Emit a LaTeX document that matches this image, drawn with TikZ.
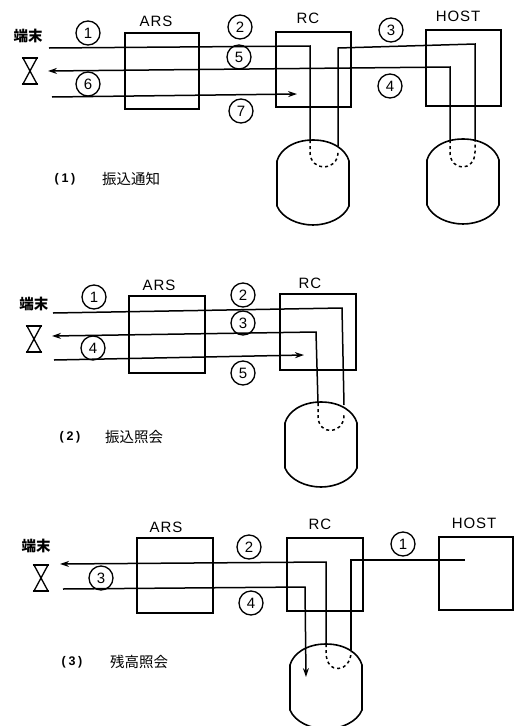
\documentclass[tikz,border=0pt]{standalone}
\usepackage{fontspec}
\setmainfont{Liberation Sans}
\newfontfamily\jpfont{Noto Sans CJK JP}
\newfontfamily\lblfont[LetterSpace=6]{Liberation Sans}
\newfontfamily\hdfont[LetterSpace=22]{Liberation Sans}
\usetikzlibrary{arrows.meta,positioning,calc}
\tikzset{>=Stealth,every node/.style={font=\small},
 unit/.style={draw,line width=1.6pt,inner sep=0pt},
 tag/.style={font=\fontsize{15}{15}\lblfont,inner sep=0pt},
 head/.style={font=\fontsize{12.5}{13}\hdfont\bfseries,inner sep=0pt},
 num/.style={circle,draw,line width=1.3pt,minimum size=24pt,inner sep=0pt,font=\fontsize{15}{15}\selectfont},
 title/.style={font=\fontsize{14.5}{15}\jpfont,inner sep=0pt},
 term/.style={font=\fontsize{14.5}{15}\jpfont\bfseries,inner sep=0pt},
 wire/.style={line width=1.5pt},
 flow/.style={wire,-{Stealth[length=9pt,width=6pt]}},
 pics/hourglass/.style={code={
  \draw[line width=1.3pt] (-7,-13) -- (7,-13) -- (-7,13) -- (7,13) -- cycle;
  \draw[line width=2.2pt] (-8,-13) -- (8,-13) (-8,13) -- (8,13);}},
 pics/drum/.style={code={
  \draw[line width=1.6pt] (-36,21) .. controls (-33,10) and (-20,0) .. (0,0)
   .. controls (20,0) and (33,10) .. (36,21)
   -- (36,66) .. controls (31,78) and (15,85) .. (0,85) .. controls (-15,85) and (-31,78) .. (-36,66) -- cycle;}}}
\begin{document}
\begin{tikzpicture}[x=1pt,y=-1pt]
\useasboundingbox[fill=white] (0,0) rectangle (516,726);
% (1)
\node[unit,minimum width=74pt,minimum height=76pt] (ars1) at (162,71){};
\node[unit,minimum width=75pt,minimum height=75pt] (rc1) at (313.5,69.5){};
\node[unit,minimum width=75pt,minimum height=76pt] (host1) at (463.5,68){};
\node[tag] (arsl1) at (156,21){ARS};\node[tag] (rcl1) at (308,18){RC};
\node[tag] (hostl1) at (458,16){HOST};
\node[term] (trm1) at (28,36){端末};\pic (gl1) at (30,71) {hourglass};
\node[num] (a1) at (88,33){1};\node[num] (a2) at (240,27){2};
\node[num] (a3) at (391,30){3};\node[num] (a4) at (390,86){4};
\node[num] (a5) at (239,57){5};\node[num] (a6) at (88,84){6};
\node[num] (a7) at (241,111){7};
\pic (db1) at (313,140) {drum};\pic (db2) at (463,139) {drum};
\coordinate (p1) at (49,48);\coordinate (p2) at (310,46);\coordinate (p3) at (310,140);
\coordinate (p4) at (338,146);\coordinate (p5) at (338,48);\coordinate (p6) at (475,44);
\coordinate (p7) at (475,140);\coordinate (p8) at (450,140);\coordinate (p9) at (450,67);
\coordinate (p10) at (48,71);\coordinate (p11) at (52,97);\coordinate (p12) at (297,94);
\draw[wire] (p1) -- (p2) -- (p3);\draw[wire] (p4) -- (p5) -- (p6) -- (p7);
\draw[flow] (p8) -- (p9) -- (p10);\draw[flow] (p11) -- (p12);
\draw[wire,dashed] (p3) -- ++(0,12) .. controls +(0,20) and ($(p4)+(0,26)$) .. ($(p4)+(0,6)$);
\draw[wire,dashed] (p8) -- ++(0,12) .. controls +(0,20) and ($(p7)+(0,32)$) .. ($(p7)+(0,12)$) -- (p7);
\node[head] (c1) at (65,179){(1)};
\node[title] (t1) at (131,179){振込通知};
% (2)
\node[unit,minimum width=76pt,minimum height=77pt] (ars2) at (167,334.5){};
\node[unit,minimum width=76pt,minimum height=76pt] (rc2) at (318,332){};
\node[tag] (arsl2) at (159,285){ARS};\node[tag] (rcl2) at (310,283){RC};
\node[term] (trm2) at (34,304){端末};\pic (gl2) at (34,339) {hourglass};
\node[num] (b1) at (94,297){1};\node[num] (b2) at (243,295){2};
\node[num] (b3) at (243,323){3};\node[num] (b4) at (93,348){4};
\node[num] (b5) at (243,373){5};
\pic (db3) at (321,402) {drum};
\coordinate (q1) at (53,313);\coordinate (q2) at (342,308);\coordinate (q3) at (344,405);
\coordinate (q4) at (318,403);\coordinate (q5) at (316,332);\coordinate (q6) at (52,336);
\coordinate (q7) at (54,360);\coordinate (q8) at (304,355);
\draw[wire] (q1) -- (q2) -- (q3);\draw[flow] (q4) -- (q5) -- (q6);\draw[flow] (q7) -- (q8);
\draw[wire,dashed] (q4) -- ++(0,13) .. controls +(0,20) and ($(q3)+(0,30)$) .. ($(q3)+(0,10)$);
\node[head] (c2) at (70,437){(2)};
\node[title] (t2) at (134,437){振込照会};
% (3)
\node[unit,minimum width=76pt,minimum height=75pt] (ars3) at (175,575.5){};
\node[unit,minimum width=76pt,minimum height=73pt] (rc3) at (325,574.5){};
\node[unit,minimum width=74pt,minimum height=73pt] (host3) at (476,573.5){};
\node[tag] (arsl3) at (166,527){ARS};\node[tag] (rcl3) at (320,524){RC};
\node[tag] (hostl3) at (474,523){HOST};
\node[term] (trm3) at (36,546){端末};\pic (gl3) at (41,578) {hourglass};
\node[num] (d1) at (403,544){1};\node[num] (d2) at (249,547){2};
\node[num] (d3) at (101,578){3};\node[num] (d4) at (251,603){4};
\pic (db4) at (326,644) {drum};
\coordinate (r1) at (465,560);\coordinate (r2) at (351,560);\coordinate (r3) at (351,650);
\coordinate (r4) at (326,644);\coordinate (r5) at (326,562);\coordinate (r6) at (60,564);
\coordinate (r7) at (63,589);\coordinate (r8) at (305,587);\coordinate (r9) at (306,677);
\draw[wire] (r1) -- (r2) -- (r3);\draw[flow] (r4) -- (r5) -- (r6);\draw[flow] (r7) -- (r8) -- (r9);
\draw[wire,dashed] (r4) -- ++(0,8) .. controls +(0,24) and ($(r3)+(0,22)$) .. ($(r3)+(0,2)$);
\node[head] (c3) at (72,662){(3)};
\node[title] (t3) at (139,662){残高照会};
\end{tikzpicture}
\end{document}
